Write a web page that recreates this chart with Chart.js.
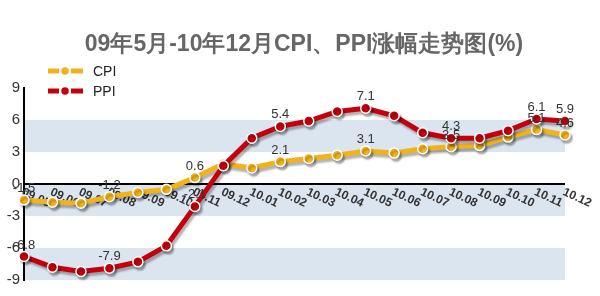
<!DOCTYPE html>
<html>
<head>
<meta charset="utf-8">
<script src="https://cdn.jsdelivr.net/npm/chart.js@4.4.0/dist/chart.umd.min.js"></script>
<style>
  html, body { margin: 0; padding: 0; background: #fff; }
  #wrap { width: 600px; height: 296px; }
</style>
</head>
<body>
<div id="wrap"><canvas id="c"></canvas></div>
<script>
// 月份
const months = ["09.05","09.06","09.07","09.08","09.09","09.10","09.11","09.12",
  "10.01","10.02","10.03","10.04","10.05","10.06","10.07","10.08","10.09","10.10","10.11","10.12"];
const cpi = [-1.5,-1.7,-1.8,-1.2,-0.8,-0.5,0.6,1.9,1.5,2.1,2.4,2.7,3.1,2.9,3.3,3.5,3.6,4.4,5.1,4.6];
const ppi = [-6.8,-7.8,-8.2,-7.9,-7.3,-5.8,-2.1,1.7,4.3,5.4,5.9,6.8,7.1,6.4,4.8,4.3,4.3,5.0,6.1,5.9];
// 显示数值的点
const labeledIdx = [0,3,6,9,12,15,18,19];
const yTicks = [-9,-6,-3,0,3,6,9];
const bands = [[3,6],[-3,0],[-9,-6]];
const TITLE = "09年5月-10年12月CPI、PPI涨幅走势图(%)";

const CPI_COLOR = "#f2b21c";
const PPI_COLOR = "#c5000b";
const FONT = "'Liberation Sans', Arial, sans-serif";

const decoPlugin = {
  id: "deco",
  beforeDraw(chart) {
    const { ctx, chartArea: a, scales: { y } } = chart;
    ctx.save();
    ctx.fillStyle = "#dbe5f0";
    bands.forEach(([lo, hi]) => {
      const y1 = y.getPixelForValue(hi), y2 = y.getPixelForValue(lo);
      ctx.fillRect(a.left, y1, a.right - a.left, y2 - y1);
    });
    // 标题
    ctx.font = "bold 23px " + FONT;
    ctx.fillStyle = "#666";
    ctx.textAlign = "center";
    ctx.textBaseline = "middle";
    ctx.fillText(TITLE, 304, 45);
    ctx.restore();
  },
  beforeDatasetsDraw(chart) {
    const { ctx, scales: { x, y } } = chart;
    const y0 = y.getPixelForValue(0);
    ctx.save();
    ctx.font = "bold 12px " + FONT;
    ctx.fillStyle = "#333";
    ctx.textAlign = "left";
    ctx.textBaseline = "top";
    months.forEach((m, i) => {
      ctx.save();
      ctx.translate(x.getPixelForValue(i) + 1, y0 + 2);
      ctx.rotate(25 * Math.PI / 180);
      ctx.fillText(m, 0, 0);
      ctx.restore();
    });
    ctx.restore();
  },
  beforeDatasetDraw(chart) {
    const ctx = chart.ctx;
    ctx.save();
    ctx.shadowColor = "rgba(0,0,0,0.3)";
    ctx.shadowOffsetX = 2;
    ctx.shadowOffsetY = 3;
    ctx.shadowBlur = 2;
  },
  afterDatasetDraw(chart) {
    chart.ctx.restore();
  },
  afterDatasetsDraw(chart) {
    const { ctx, scales: { x, y } } = chart;
    ctx.save();
    ctx.font = "13px " + FONT;
    ctx.fillStyle = "#333";
    ctx.textAlign = "center";
    ctx.textBaseline = "bottom";
    [cpi, ppi].forEach(arr => {
      labeledIdx.forEach(i => {
        ctx.fillText(arr[i].toFixed(1), x.getPixelForValue(i), y.getPixelForValue(arr[i]) - 5);
      });
    });
    // 图例
    [["CPI", CPI_COLOR, 71], ["PPI", PPI_COLOR, 91]].forEach(([name, col, ly]) => {
      ctx.strokeStyle = col;
      ctx.lineWidth = 5;
      ctx.beginPath(); ctx.moveTo(48, ly); ctx.lineTo(59, ly); ctx.stroke();
      ctx.beginPath(); ctx.moveTo(71, ly); ctx.lineTo(83, ly); ctx.stroke();
      ctx.beginPath(); ctx.arc(65, ly, 4.5, 0, Math.PI * 2);
      ctx.fillStyle = col; ctx.fill();
      ctx.strokeStyle = "#fff"; ctx.lineWidth = 1.5; ctx.stroke();
      ctx.fillStyle = "#222";
      ctx.font = "14px " + FONT;
      ctx.textAlign = "left";
      ctx.textBaseline = "middle";
      ctx.fillText(name, 93, ly + 1);
    });
    ctx.restore();
  }
};

new Chart(document.getElementById("c"), {
  type: "line",
  data: {
    labels: months,
    datasets: [
      {
        label: "CPI", data: cpi, order: 1,
        borderColor: CPI_COLOR, backgroundColor: CPI_COLOR, borderWidth: 5,
        pointRadius: 5, pointBackgroundColor: CPI_COLOR,
        pointBorderColor: "#fff", pointBorderWidth: 1.5,
        tension: 0, clip: false
      },
      {
        label: "PPI", data: ppi, order: 0,
        borderColor: PPI_COLOR, backgroundColor: PPI_COLOR, borderWidth: 5,
        pointRadius: 5, pointBackgroundColor: PPI_COLOR,
        pointBorderColor: "#fff", pointBorderWidth: 1.5,
        tension: 0, clip: false
      }
    ]
  },
  options: {
    responsive: true,
    maintainAspectRatio: false,
    animation: false,
    devicePixelRatio: 1,
    layout: { padding: { left: 0, right: 35, bottom: 16, top: 88 } },
    plugins: {
      legend: { display: false },
      tooltip: { enabled: false },
      title: { display: false }
    },
    scales: {
      x: { display: false, offset: false },
      y: {
        min: -9, max: 9,
        afterBuildTicks: s => { s.ticks = yTicks.map(v => ({ value: v })); },
        afterFit: s => { s.width = 24; },
        ticks: { color: "#333", font: { size: 15, family: FONT }, padding: 4 },
        grid: {
          drawTicks: false,
          color: c => (c.tick && c.tick.value === 0) ? "#000" : "rgba(0,0,0,0)",
          lineWidth: 2
        },
        border: { display: true, color: "#000", width: 2 }
      }
    }
  },
  plugins: [decoPlugin]
});
</script>
</body>
</html>
